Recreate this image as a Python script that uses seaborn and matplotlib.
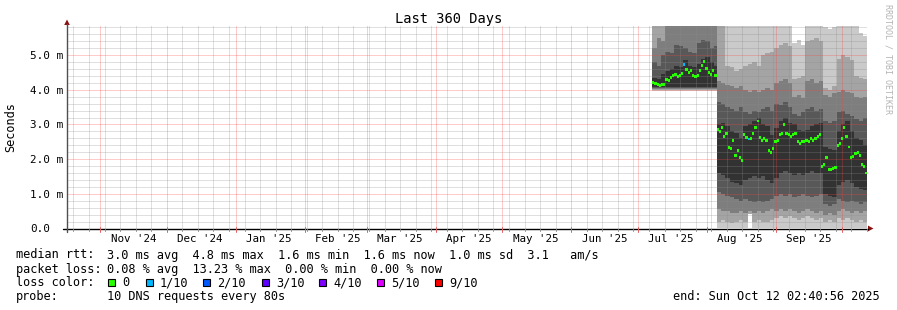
import numpy as np
import matplotlib
matplotlib.use("Agg")
import matplotlib.pyplot as plt
import seaborn as sns
from datetime import datetime, timedelta
from matplotlib.lines import Line2D
from matplotlib.patches import Polygon, Rectangle

# ---------------- data ----------------
title = "Last 360 Days"
y_label = "Seconds"
watermark = "RRDTOOL / TOBI OETIKER"
end_time = datetime(2025, 10, 12, 2, 40, 56)
span_days = 360
y_max = 5.84
month_labels = ["Nov '24", "Dec '24", "Jan '25", "Feb '25", "Mar '25", "Apr '25",
                "May '25", "Jun '25", "Jul '25", "Aug '25", "Sep '25"]
ytick_values = [0, 1, 2, 3, 4, 5]
ytick_labels = ["0.0", "1.0 m", "2.0 m", "3.0 m", "4.0 m", "5.0 m"]

series_start = datetime(2025, 7, 7, 10, 0)

# daily median rtt (ms), Jul 7 .. Oct 11 2025
median_ms = [4.20, 4.18, 4.15, 4.13, 4.14, 4.16, 4.30, 4.28, 4.36, 4.40,
             4.44, 4.38, 4.40, 4.46, 4.72, 4.58, 4.50, 4.55, 4.40, 4.37,
             4.42, 4.55, 4.70, 4.82, 4.62, 4.50, 4.45, 4.56, 4.40, 2.85,
             2.80, 2.92, 2.65, 2.75, 2.33, 2.30, 2.55, 2.10, 2.25, 2.05,
             1.95, 2.70, 2.62, 2.58, 2.60, 2.75, 2.90, 3.10, 2.62, 2.55,
             2.60, 2.55, 2.25, 2.20, 2.30, 2.50, 2.55, 2.70, 2.75, 3.00,
             2.75, 2.70, 2.65, 2.70, 2.75, 2.50, 2.45, 2.50, 2.50, 2.55,
             2.50, 2.60, 2.55, 2.60, 2.65, 2.70, 1.80, 1.85, 2.05, 1.70,
             1.70, 1.72, 1.75, 2.40, 2.45, 2.60, 2.90, 2.65, 2.35, 2.05,
             2.08, 2.15, 2.20, 2.10, 1.85, 1.80, 1.60]
# lost pings out of 10 per day
median_loss = [0, 0, 0, 0, 0, 0, 0, 0, 0, 0,
               0, 0, 0, 0, 1, 0, 0, 0, 0, 0,
               0, 0, 0, 0, 0, 0, 0, 0, 0, 0,
               0, 0, 0, 0, 0, 0, 0, 0, 0, 0,
               0, 0, 0, 1, 0, 0, 0, 0, 0, 0,
               0, 0, 0, 0, 0, 0, 0, 0, 0, 0,
               0, 0, 0, 0, 0, 0, 0, 0, 0, 0,
               0, 0, 0, 0, 0, 0, 0, 0, 0, 0,
               0, 0, 0, 0, 0, 0, 0, 0, 0, 0,
               0, 0, 0, 0, 0, 0, 0]

# smoke (sorted ping ranks 1..10), sampled on band days
band_days = [0, 2, 4, 6, 8, 10, 12, 14, 16, 18, 20, 22, 24, 26, 28,
             29, 31, 33, 35, 37, 39, 41, 43, 45, 47, 49, 51, 53, 55, 57, 59, 61,
             63, 65, 67, 69, 71, 73, 75, 77, 79, 81, 83, 85, 87, 89, 91, 93, 95]
series_end_day = 96.6

ping1 = [3.97, 3.97, 3.97, 3.97, 3.97, 3.97, 3.97, 3.97, 3.97, 3.97, 3.97, 3.97, 3.97, 3.97, 3.97,
         0.02, 0.02, 0.02, 0.02, 0.02, 0.02, 0.02, 0.42, 0.02, 0.02, 0.02, 0.02, 0.02, 0.02, 0.02, 0.02, 0.02,
         0.02, 0.02, 0.02, 0.02, 0.02, 0.02, 0.02, 0.02, 0.02, 0.02, 0.02, 0.02, 0.02, 0.02, 0.02, 0.02, 0.02]
ping2 = [4.00, 4.00, 4.00, 4.00, 4.00, 4.00, 4.00, 4.00, 4.00, 4.00, 4.00, 4.00, 4.00, 4.00, 4.00,
         0.20, 0.25, 0.20, 0.15, 0.20, 0.25, 0.20, 0.42, 0.20, 0.25, 0.20, 0.20, 0.25, 0.30, 0.35, 0.30, 0.35,
         0.30, 0.25, 0.30, 0.35, 0.30, 0.25, 0.30, 0.20, 0.25, 0.20, 0.30, 0.25, 0.30, 0.25, 0.20, 0.25, 0.20]
ping3 = [4.02, 4.02, 4.02, 4.02, 4.02, 4.02, 4.02, 4.02, 4.02, 4.02, 4.02, 4.02, 4.02, 4.02, 4.02,
         0.55, 0.50, 0.50, 0.45, 0.45, 0.50, 0.45, 0.50, 0.45, 0.50, 0.45, 0.50, 0.55, 0.50, 0.55, 0.50, 0.55,
         0.50, 0.45, 0.50, 0.55, 0.50, 0.45, 0.50, 0.40, 0.45, 0.40, 0.50, 0.55, 0.50, 0.45, 0.50, 0.45, 0.50]
ping4 = [4.04, 4.04, 4.04, 4.04, 4.04, 4.04, 4.04, 4.04, 4.04, 4.04, 4.04, 4.04, 4.04, 4.04, 4.04,
         1.05, 1.00, 0.95, 0.90, 0.85, 0.80, 0.85, 0.80, 0.75, 0.80, 0.75, 0.80, 0.85, 0.95, 1.00, 0.95, 1.00,
         0.90, 0.95, 1.00, 0.95, 0.90, 0.95, 1.00, 0.70, 0.65, 0.70, 0.85, 0.80, 0.75, 0.80, 0.75, 0.70, 0.75]
ping5 = [4.07, 4.07, 4.07, 4.07, 4.07, 4.07, 4.07, 4.07, 4.07, 4.07, 4.07, 4.07, 4.07, 4.07, 4.07,
         1.60, 1.55, 1.45, 1.35, 1.30, 1.25, 1.40, 1.45, 1.50, 1.45, 1.50, 1.40, 1.30, 1.45, 1.60, 1.65, 1.60,
         1.55, 1.60, 1.55, 1.60, 1.65, 1.60, 1.60, 1.00, 0.95, 0.90, 1.25, 1.35, 1.40, 1.30, 1.20, 1.15, 1.10]
ping6 = [4.35, 4.30, 4.45, 4.55, 4.60, 4.70, 4.65, 4.85, 4.70, 4.65, 4.75, 4.90, 4.95, 4.80, 4.70,
         3.00, 3.05, 2.95, 2.80, 2.75, 2.60, 2.95, 3.00, 3.10, 3.20, 3.00, 2.95, 2.70, 2.90, 3.10, 3.20, 3.05,
         3.00, 2.85, 2.80, 2.85, 2.95, 3.00, 3.05, 2.35, 2.30, 2.25, 2.80, 3.00, 3.10, 2.80, 2.60, 2.55, 2.40]
ping7 = [4.80, 4.70, 5.00, 5.10, 5.05, 5.30, 5.25, 5.20, 5.10, 5.05, 5.35, 5.45, 5.40, 5.20, 5.25,
         3.65, 3.60, 3.50, 3.45, 3.40, 3.50, 3.35, 3.30, 3.40, 3.35, 3.45, 3.50, 3.40, 3.60, 3.55, 3.65, 3.50,
         3.30, 3.25, 3.35, 3.45, 3.50, 3.40, 3.45, 3.10, 3.05, 3.10, 3.35, 3.40, 3.30, 3.25, 3.15, 3.10, 3.20]
ping8 = [5.20, 5.50, 5.40, 6.50, 6.50, 6.50, 6.50, 6.50, 6.50, 6.50, 6.50, 6.50, 6.50, 6.50, 6.50,
         4.25, 4.20, 4.15, 4.10, 4.05, 4.10, 4.00, 3.95, 4.00, 3.95, 4.00, 4.05, 4.00, 4.20, 4.25, 4.30, 4.20,
         3.80, 3.85, 3.75, 4.25, 4.30, 4.20, 4.25, 3.85, 3.80, 3.90, 3.95, 4.00, 3.95, 3.90, 3.80, 3.75, 3.80]
ping9 = [6.50, 6.50, 6.50, 6.50, 6.50, 6.50, 6.50, 6.50, 6.50, 6.50, 6.50, 6.50, 6.50, 6.50, 6.50,
         6.50, 6.50, 4.70, 4.65, 4.55, 4.60, 4.70, 4.75, 4.80, 4.70, 5.00, 5.05, 5.10, 5.20, 5.30, 5.35, 5.25,
         4.30, 4.35, 4.40, 5.40, 5.45, 5.50, 5.40, 4.05, 4.00, 4.10, 4.90, 5.00, 4.95, 4.85, 4.40, 4.35, 4.30]
ping10 = [6.50, 6.50, 6.50, 6.50, 6.50, 6.50, 6.50, 6.50, 6.50, 6.50, 6.50, 6.50, 6.50, 6.50, 6.50,
          6.50, 6.50, 6.50, 6.50, 6.50, 6.50, 6.50, 6.50, 6.50, 6.50, 6.50, 6.50, 6.50, 6.50, 6.50, 6.50, 6.50,
          5.35, 5.45, 5.30, 6.50, 6.50, 6.50, 6.50, 5.80, 5.75, 5.80, 6.50, 6.50, 6.50, 6.50, 6.50, 5.65, 5.55]

smoke_colors = ["#cacaca", "#a4a4a4", "#7e7e7e", "#585858", "#323232"]
loss_levels = [0, 1, 2, 3, 4, 5, 9]
loss_labels = ["0", "1/10", "2/10", "3/10", "4/10", "5/10", "9/10"]
loss_colors = ["#26ff00", "#00b8ff", "#0059ff", "#5e00ff", "#7e00ff", "#dd00ff", "#ff0000"]

legend_rows = [
    ("median rtt:", "3.0 ms avg  4.8 ms max  1.6 ms min  1.6 ms now  1.0 ms sd  3.1   am/s"),
    ("packet loss:", "0.08 % avg  13.23 % max  0.00 % min  0.00 % now"),
    ("loss color:", ""),
    ("probe:", "10 DNS requests every 80s"),
]
end_text = "end: Sun Oct 12 02:40:56 2025"

# ---------------- style ----------------
sns.set_theme(style="white")
plt.rcParams["font.family"] = ["DejaVu Sans Mono", "DejaVu Sans"]
plt.rcParams["lines.scale_dashes"] = False

W, H = 897, 310
fig = plt.figure(figsize=(W / 100, H / 100), dpi=100)
fig.patch.set_facecolor("white")


def fx(x):
    return x / W


def fy(y):
    return 1 - y / H


L, R, T, B = 67, 867, 26, 228.5
ax = fig.add_axes([fx(L), fy(B), (R - L) / W, (B - T) / H])
ax.set_xlim(0, span_days)
ax.set_ylim(0, y_max)
ax.set_axis_off()

start = end_time - timedelta(days=span_days)


def tday(dt):
    return (dt - start).total_seconds() / 86400.0


x0 = tday(series_start)

# ---------------- smoke ----------------
pings = [ping1, ping2, ping3, ping4, ping5, ping6, ping7, ping8, ping9, ping10]
bx = x0 + np.array(band_days + [series_end_day], dtype=float)
for i, col in enumerate(smoke_colors):
    lo = np.array(pings[i] + [pings[i][-1]])
    hi = np.array(pings[9 - i] + [pings[9 - i][-1]])
    ax.fill_between(bx, lo, hi, step="post", color=col, lw=0, zorder=1,
                    antialiased=False)

# ---------------- grid ----------------
minor_col = (0.55, 0.55, 0.55, 0.55)
major_col = (1.0, 0.25, 0.25, 0.55)
months = []
yr, mo = 2024, 11
while True:
    d = datetime(yr, mo, 1)
    if tday(d) > span_days:
        break
    months.append(d)
    mo += 1
    if mo > 12:
        mo, yr = 1, yr + 1
month_pos = [tday(m) for m in months]

week = datetime(2024, 10, 20)
weeks = []
while tday(week) < span_days:
    wd = tday(week)
    if min(abs(wd - mp) for mp in month_pos) > 0.3:
        weeks.append(wd)
    week += timedelta(days=7)

# 1 px on / 1 px off dotted lines (0.72 pt = 1 px at 100 dpi)
grid_kw = dict(lw=0.72, ls=(0, (0.72, 0.72)), zorder=2, antialiased=True, snap=True)
for w in weeks:
    ax.axvline(w, color=minor_col, **grid_kw)
for k in range(1, 30):
    v = k * 0.2
    if abs(v - round(v)) < 1e-6 or v > y_max:
        continue
    ax.axhline(v, color=minor_col, **grid_kw)
for mp in month_pos:
    ax.axvline(mp, color=major_col, **grid_kw)
for v in ytick_values[1:]:
    ax.axhline(v, color=major_col, **grid_kw)

# ---------------- median ----------------
color_of = dict(zip(loss_levels, loss_colors))
mcols = [color_of[l] for l in median_loss]
mx = x0 + np.arange(len(median_ms))
ax.bar(mx, height=0.085, bottom=np.array(median_ms) - 0.042, width=1.0, align="edge",
       color=mcols, lw=0, zorder=3)

# ---------------- axes (drawn in pixel space) ----------------
def fline(xs, ys, **kw):
    fig.add_artist(Line2D([fx(v) for v in xs], [fy(v) for v in ys],
                          transform=fig.transFigure, **kw))


fline([63, 868], [228.5, 228.5], color="black", lw=1.0)
fline([67, 67], [231.5, 24], color="#505050", lw=1.0)
fig.add_artist(Polygon([(fx(64.2), fy(25)), (fx(69.8), fy(25)), (fx(67), fy(19.5))],
                       closed=True, transform=fig.transFigure, color="#8b1010", lw=0))
fig.add_artist(Polygon([(fx(868), fy(225.6)), (fx(868), fy(231.4)), (fx(873.5), fy(228.5))],
                       closed=True, transform=fig.transFigure, color="#8b1010", lw=0))

px_per_day = (R - L) / span_days
for w in weeks:
    xp = L + w * px_per_day
    fline([xp, xp], [228.5, 231], color="#909090", lw=0.7)
for mp in month_pos:
    xp = L + mp * px_per_day
    fline([xp, xp], [226.5, 231.5], color="#e06060", lw=0.7)

# y tick labels
px_per_ms = (B - T) / y_max
for v, lab in zip(ytick_values, ytick_labels):
    yp = B - v * px_per_ms
    fig.text(fx(30), fy(yp + 3.9), lab, ha="left", va="baseline", fontsize=7.9, color="black")

# month labels at 16th of each month
for mp, lab in zip(month_pos, month_labels):
    mid = mp + 15
    fig.text(fx(L + mid * px_per_day), fy(241.6), lab, ha="center", va="baseline",
             fontsize=7.8, color="black")

# title, y label, watermark
fig.text(fx(448.5), fy(23.5), title, ha="center", va="baseline", fontsize=9.9, color="black")
fig.text(fx(11), fy(127), y_label, rotation=90, ha="center", va="center", fontsize=8.6,
         color="black")
fig.text(fx(888), fy(59), watermark, rotation=270, ha="center", va="center", fontsize=6.0,
         color="#b4b4b4")

# legend rows
row_base = [258.5, 272.5, 286.5, 300.3]
for (lab, val), yb in zip(legend_rows, row_base):
    fig.text(fx(16), fy(yb), lab, ha="left", va="baseline", fontsize=8.6, color="black")
    if val:
        fig.text(fx(107.3), fy(yb), val, ha="left", va="baseline", fontsize=8.6, color="black")

box_x = [108, 146, 203, 262, 319, 377, 435]
for bxp, col, lab in zip(box_x, loss_colors, loss_labels):
    fig.add_artist(Rectangle((fx(bxp), fy(285.8)), 7 / W, 7 / H, transform=fig.transFigure,
                             facecolor=col, edgecolor="black", lw=0.8))
    fig.text(fx(bxp + 14), fy(286.5), lab, ha="left", va="baseline", fontsize=8.6,
             color="black")

fig.text(fx(880), fy(300.3), end_text, ha="right", va="baseline", fontsize=8.6, color="black")

fig.savefig("out.png", dpi=100, facecolor="white")
